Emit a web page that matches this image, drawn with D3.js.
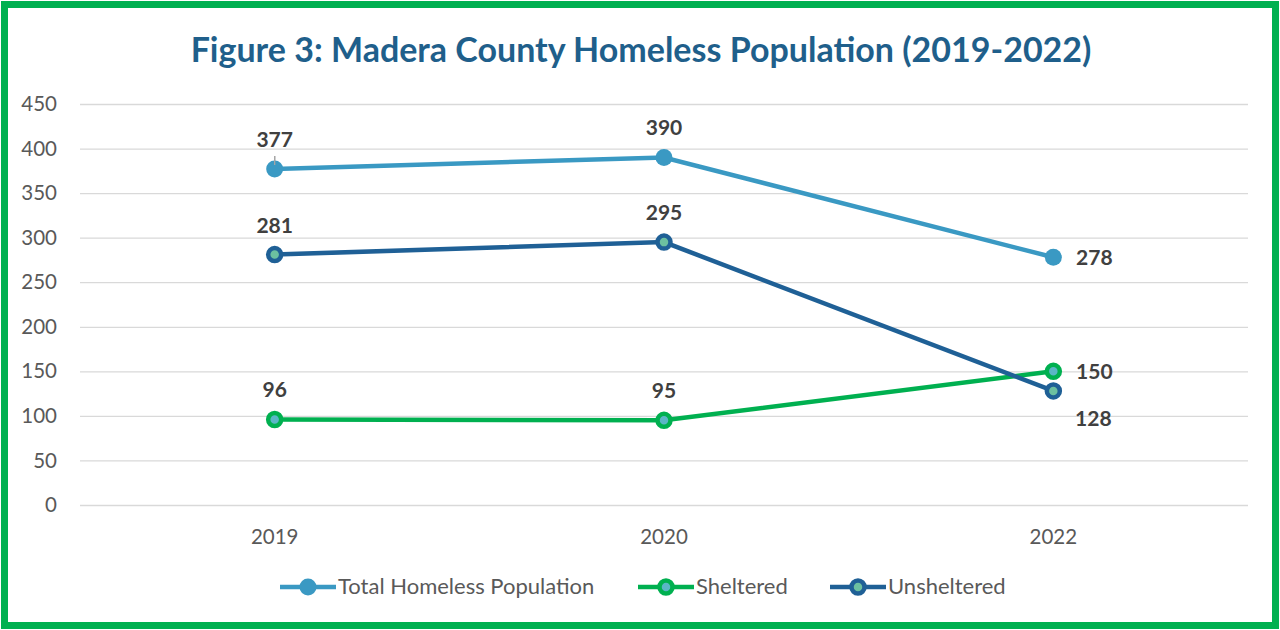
<!DOCTYPE html>
<html><head><meta charset="utf-8">
<script src="https://cdn.jsdelivr.net/npm/d3@7"></script>
<style>body{margin:0;background:#fff}svg{display:block}</style>
</head><body><svg id="c" width="1280" height="630"></svg>
<script>
const years = ["2019","2020","2022"];
const totalVals = [377, 390, 278];
const shelteredVals = [96, 95, 150];
const unshelteredVals = [281, 295, 128];
const yTicks = [0,50,100,150,200,250,300,350,400,450];
const seriesNames = ["Total Homeless Population","Sheltered","Unsheltered"];

const svg = d3.select("#c");
const font = "Lato, 'Open Sans', sans-serif";
svg.append("rect").attr("x",4.5).attr("y",4.5).attr("width",1271).attr("height",621)
  .attr("fill","#fff").attr("stroke","#00B050").attr("stroke-width",7);

svg.append("text").attr("x",641).attr("y",62).attr("text-anchor","middle")
  .attr("font-family",font).attr("font-weight","bold").attr("font-size",34)
  .attr("fill","#1F5F8B").text("Figure 3: Madera County Homeless Population (2019-2022)");

const x = d3.scaleBand().domain(years).range([80,1248]);
const y = d3.scaleLinear().domain([0,450]).range([505,104]);

const g = svg.append("g");
const yAxis = g.append("g").attr("transform","translate(80,0)")
  .call(d3.axisLeft(y).tickValues(yTicks).tickSize(-1168).tickPadding(22));
yAxis.select(".domain").remove();
yAxis.selectAll("line").attr("stroke","#d9d9d9").attr("stroke-width",1.3);
yAxis.selectAll("text").attr("font-family",font).attr("font-size",20.5).attr("fill","#595959").attr("text-anchor","end").attr("x",-23);

const xAxis = g.append("g").attr("transform","translate(0,505)")
  .call(d3.axisBottom(x).tickSize(0).tickPadding(24));
xAxis.select(".domain").remove();
xAxis.selectAll("text").attr("font-family",font).attr("font-size",20.5).attr("fill","#595959");

const series = [
  {name:seriesNames[0], vals:totalVals, color:"#3A99C3", inner:null},
  {name:seriesNames[1], vals:shelteredVals, color:"#00B050", inner:"#5AB6C6"},
  {name:seriesNames[2], vals:unshelteredVals, color:"#1F6096", inner:"#6CC0A0"}
];
const cx = d => x(d) + x.bandwidth()/2;
const line = d3.line().x((d,i)=>cx(years[i])).y(d=>y(d));

// small leader line for the first label
g.append("line").attr("x1",cx(years[0])).attr("x2",cx(years[0]))
  .attr("y1",y(totalVals[0])-13).attr("y2",y(totalVals[0])-2)
  .attr("stroke","#a6a6a6").attr("stroke-width",1.3);

series.forEach(s=>{
  g.append("path").datum(s.vals).attr("d",line).attr("fill","none")
    .attr("stroke",s.color).attr("stroke-width",4.5);
});
series.forEach(s=>{
  s.vals.forEach((v,i)=>{
    if(s.inner){
      g.append("circle").attr("cx",cx(years[i])).attr("cy",y(v)).attr("r",6.5)
        .attr("fill",s.inner).attr("stroke",s.color).attr("stroke-width",4.5);
    } else {
      g.append("circle").attr("cx",cx(years[i])).attr("cy",y(v)).attr("r",8.5).attr("fill",s.color);
    }
  });
});
g.append("line").attr("x1",cx(years[0])).attr("x2",cx(years[0]))
  .attr("y1",y(totalVals[0])-13).attr("y2",y(totalVals[0])-4)
  .attr("stroke","#a6a6a6").attr("stroke-width",1.3);

const lab = (txt,xx,yy)=>g.append("text").attr("x",xx).attr("y",yy).attr("text-anchor","middle")
  .attr("font-family",font).attr("font-weight","bold").attr("font-size",21).attr("fill","#404040").text(txt);
series.forEach((s,si)=>{
  s.vals.forEach((v,i)=>{
    const px = cx(years[i]), py = y(v);
    if(i<2){ lab(v, px, py-22); }
    else {
      if(si===2) lab(v, px+40, py+35);
      else lab(v, px+41, py+8);
    }
  });
});

const legItems = [
  {s:series[0], x:280, tx:338},
  {s:series[1], x:638, tx:696},
  {s:series[2], x:830, tx:888}
];
legItems.forEach(l=>{
  const ly = 587;
  svg.append("line").attr("x1",l.x).attr("x2",l.x+56).attr("y1",ly).attr("y2",ly)
    .attr("stroke",l.s.color).attr("stroke-width",4.5);
  if(l.s.inner) svg.append("circle").attr("cx",l.x+28).attr("cy",ly).attr("r",6.5).attr("fill",l.s.inner).attr("stroke",l.s.color).attr("stroke-width",4.5);
  else svg.append("circle").attr("cx",l.x+28).attr("cy",ly).attr("r",8.5).attr("fill",l.s.color);
  svg.append("text").attr("x",l.tx).attr("y",ly+7).attr("font-family",font).attr("font-size",22)
    .attr("fill","#595959").text(l.s.name);
});
</script></body></html>
